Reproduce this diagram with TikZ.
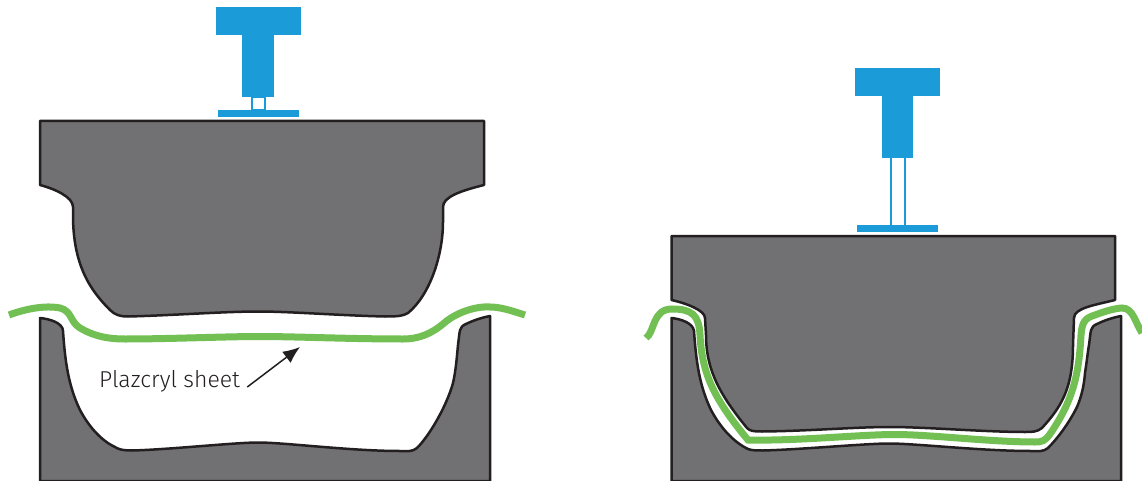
\documentclass[tikz,border=0pt]{standalone}
\usepackage{fontspec}
\setmainfont{Fira Sans Light}
\usetikzlibrary{arrows.meta}
\definecolor{diegray}{HTML}{717073}
\definecolor{dieline}{HTML}{231F20}
\definecolor{sheetgreen}{HTML}{72BF53}
\definecolor{pressblue}{HTML}{1B9CD8}
\tikzset{
  die/.style={fill=diegray,draw=dieline,line width=2.5pt,line join=round},
  sheet/.style={draw=sheetgreen,line width=7pt},
  press/.style={fill=pressblue,draw=none},
  pressleg/.style={draw=pressblue,line width=2pt},
  pointer/.style={draw=dieline,line width=1.5pt,-{Latex[length=17pt,width=14pt]}}
}
\begin{document}
\begin{tikzpicture}[x=1pt,y=-1pt]
\useasboundingbox (0,0) rectangle (1142,481);
% left: press open
\fill[press] (216,7.5) rectangle (301,35); \fill[press] (242,35) rectangle (274,97);
\draw[pressleg] (252,97) rectangle (265,110);
\fill[press] (218,110) rectangle (299,117);
\draw[die] (40,121) -- (484,121) -- (484,185) .. controls (460,191) and (443,197) .. (443,207) -- (443,222) .. controls (443,255) and (430,295) .. (408,313) .. controls (403,316) and (398,316.5) .. (385,316.5) .. controls (340,315.5) and (290,311.5) .. (258,311.5) .. controls (225,311.5) and (170,315.5) .. (128,316.5) .. controls (120,316.5) and (115,315) .. (110,310) .. controls (90,290) and (73,265) .. (73,215) -- (73,207) .. controls (73,197) and (55,189) .. (40,185) -- cycle;
\draw[die] (40,481) -- (40,318) .. controls (50,319) and (63,323) .. (63,331) .. controls (65,360) and (68,385) .. (80,410) .. controls (88,425) and (100,440) .. (115,447) .. controls (118,449) and (122,450.5) .. (132,450.5) .. controls (170,449.5) and (235,442.5) .. (258,442.5) .. controls (285,442.5) and (350,451) .. (400,451) .. controls (408,451) and (412,452) .. (417,448) .. controls (430,435) and (447,405) .. (453,383) .. controls (456,370) and (457,355) .. (458,345) .. controls (460,330) and (459,327) .. (466,324) .. controls (472,321) and (480,318) .. (490,316) -- (490,481) -- cycle;
\draw[sheet] (9,315) .. controls (25,309) and (45,305) .. (60,308) .. controls (72,311) and (70,322) .. (80,328) .. controls (92,335) and (105,339) .. (125,339) .. controls (170,339) and (225,336.5) .. (260,336.5) .. controls (295,336.5) and (350,339) .. (403,339) .. controls (420,339) and (432,333) .. (443,324) .. controls (455,313) and (475,306) .. (490,307) .. controls (502,307) and (515,312) .. (525,315);
\node[anchor=base west,inner sep=0pt,text=dieline,font=\fontsize{23}{23}\selectfont] (sheetlabel) at (99,387) {Plazcryl sheet};
\coordinate (sheettip) at (300,347);
\draw[pointer] ([xshift=7pt]sheetlabel.base east) -- (sheettip);
% right: press closed
\fill[press] (855,68) rectangle (940,96); \fill[press] (882,96) rectangle (913,158);
\draw[pressleg] (891,158) -- (891,225); \draw[pressleg] (904.5,158) -- (904.5,225);
\fill[press] (857,225) rectangle (938,232);
\draw[die] (671.5,481) -- (671.5,318) .. controls (681,319) and (693,323) .. (694,331) .. controls (696,360) and (699,385) .. (711,410) .. controls (719,425) and (731,440) .. (746,448) .. controls (749,450) and (753,450.5) .. (763,450.5) .. controls (801,449.5) and (866,443.5) .. (889,443.5) .. controls (916,443.5) and (981,451) .. (1031,451) .. controls (1039,451) and (1043,452) .. (1048,448) .. controls (1056,440) and (1068,425) .. (1077,407) .. controls (1082,395) and (1084,385) .. (1085,373) .. controls (1087,360) and (1088,350) .. (1089,345) .. controls (1091,330) and (1090,327) .. (1097,324) .. controls (1103,321) and (1111,318) .. (1121,316) -- (1121,481) -- cycle;
\draw[sheet] (646,338) .. controls (655,332) and (652,309) .. (672,309) .. controls (692,309) and (699,315) .. (700,335) .. controls (702,375) and (715,400) .. (748,440) .. controls (800,441) and (860,434.5) .. (895,434.5) .. controls (930,434.5) and (990,442) .. (1035,442) .. controls (1042,442) and (1045,441) .. (1050,434) .. controls (1075,398) and (1079,370) .. (1081,335) .. controls (1082,322) and (1085,318) .. (1095,315) .. controls (1108,310) and (1118,308) .. (1122,308) .. controls (1133,308) and (1135,322) .. (1142,333);
\draw[die] (671.5,236) -- (1115,236) -- (1115,300) .. controls (1095,305) and (1074,308) .. (1074,318) -- (1073,345) .. controls (1073,390) and (1060,408) .. (1042,428) .. controls (1037,432) and (1032,432) .. (1025,432) .. controls (985,432) and (925,427) .. (890,427) .. controls (855,427) and (810,431) .. (762,431.5) .. controls (753,431.5) and (750,431) .. (747,428) .. controls (720,395) and (706,370) .. (706,335) -- (705,318) .. controls (705,310) and (685,303) .. (671.5,300) -- cycle;
\end{tikzpicture}
\end{document}
